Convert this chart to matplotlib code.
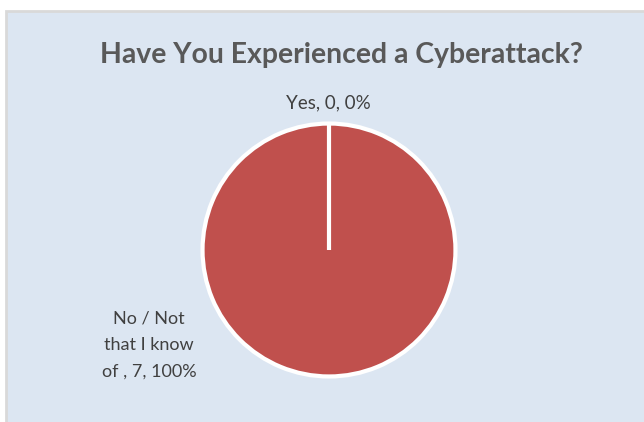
import matplotlib
matplotlib.use("Agg")
import matplotlib.pyplot as plt
import numpy as np
from matplotlib.patches import Rectangle

categories = ["Yes", "No / Not\nthat I know\nof "]
values = [0, 7]
colors = ["#4f81bd", "#c0504d"]
title = "Have You Experienced a Cyberattack?"

plt.rcParams['font.family'] = ['Lato', 'DejaVu Sans']

W, H = 644, 422
fig = plt.figure(figsize=(W / 100, H / 100), dpi=100)
fig.patch.set_facecolor("white")

# chart area background with thin grey border
fig.patches.append(Rectangle((6 / W, -0.1), 1.1, (H - 11) / H + 0.1,
                             transform=fig.transFigure, facecolor="#dce6f2",
                             edgecolor="#d9d9d9", linewidth=2, zorder=-5))

fig.text(341 / W, 1 - 55 / H, title, ha="center", va="center",
         fontsize=20.4, fontweight="bold", color="#595959")

cx, cy, r = 329, 250, 129
start = 90
ax = fig.add_axes([(cx - r) / W, (H - cy - r) / H, 2 * r / W, 2 * r / H])
ax.pie(values, colors=colors, startangle=start, counterclock=False,
       wedgeprops=dict(edgecolor="white", linewidth=3))
# radial edge of the full wedge (matplotlib skips it for a 360 degree wedge)
ax.plot([0, np.cos(np.radians(start))], [0, np.sin(np.radians(start))],
        color="white", lw=3, solid_capstyle="butt")
ax.set_xlim(-1.02, 1.02)
ax.set_ylim(-1.02, 1.02)
ax.set_aspect("equal")
ax.axis("off")

total = sum(values)
labels = [f"{c}, {v}, {v / total:.0%}" for c, v in zip(categories, values)]
fig.text(328 / W, 1 - 103 / H, labels[0], ha="center", va="center",
         fontsize=13.5, color="#404040")
fig.text(149 / W, 1 - 345 / H, labels[1], ha="center", va="center",
         fontsize=13, color="#404040", linespacing=1.8)

fig.savefig("out.png", dpi=100)
